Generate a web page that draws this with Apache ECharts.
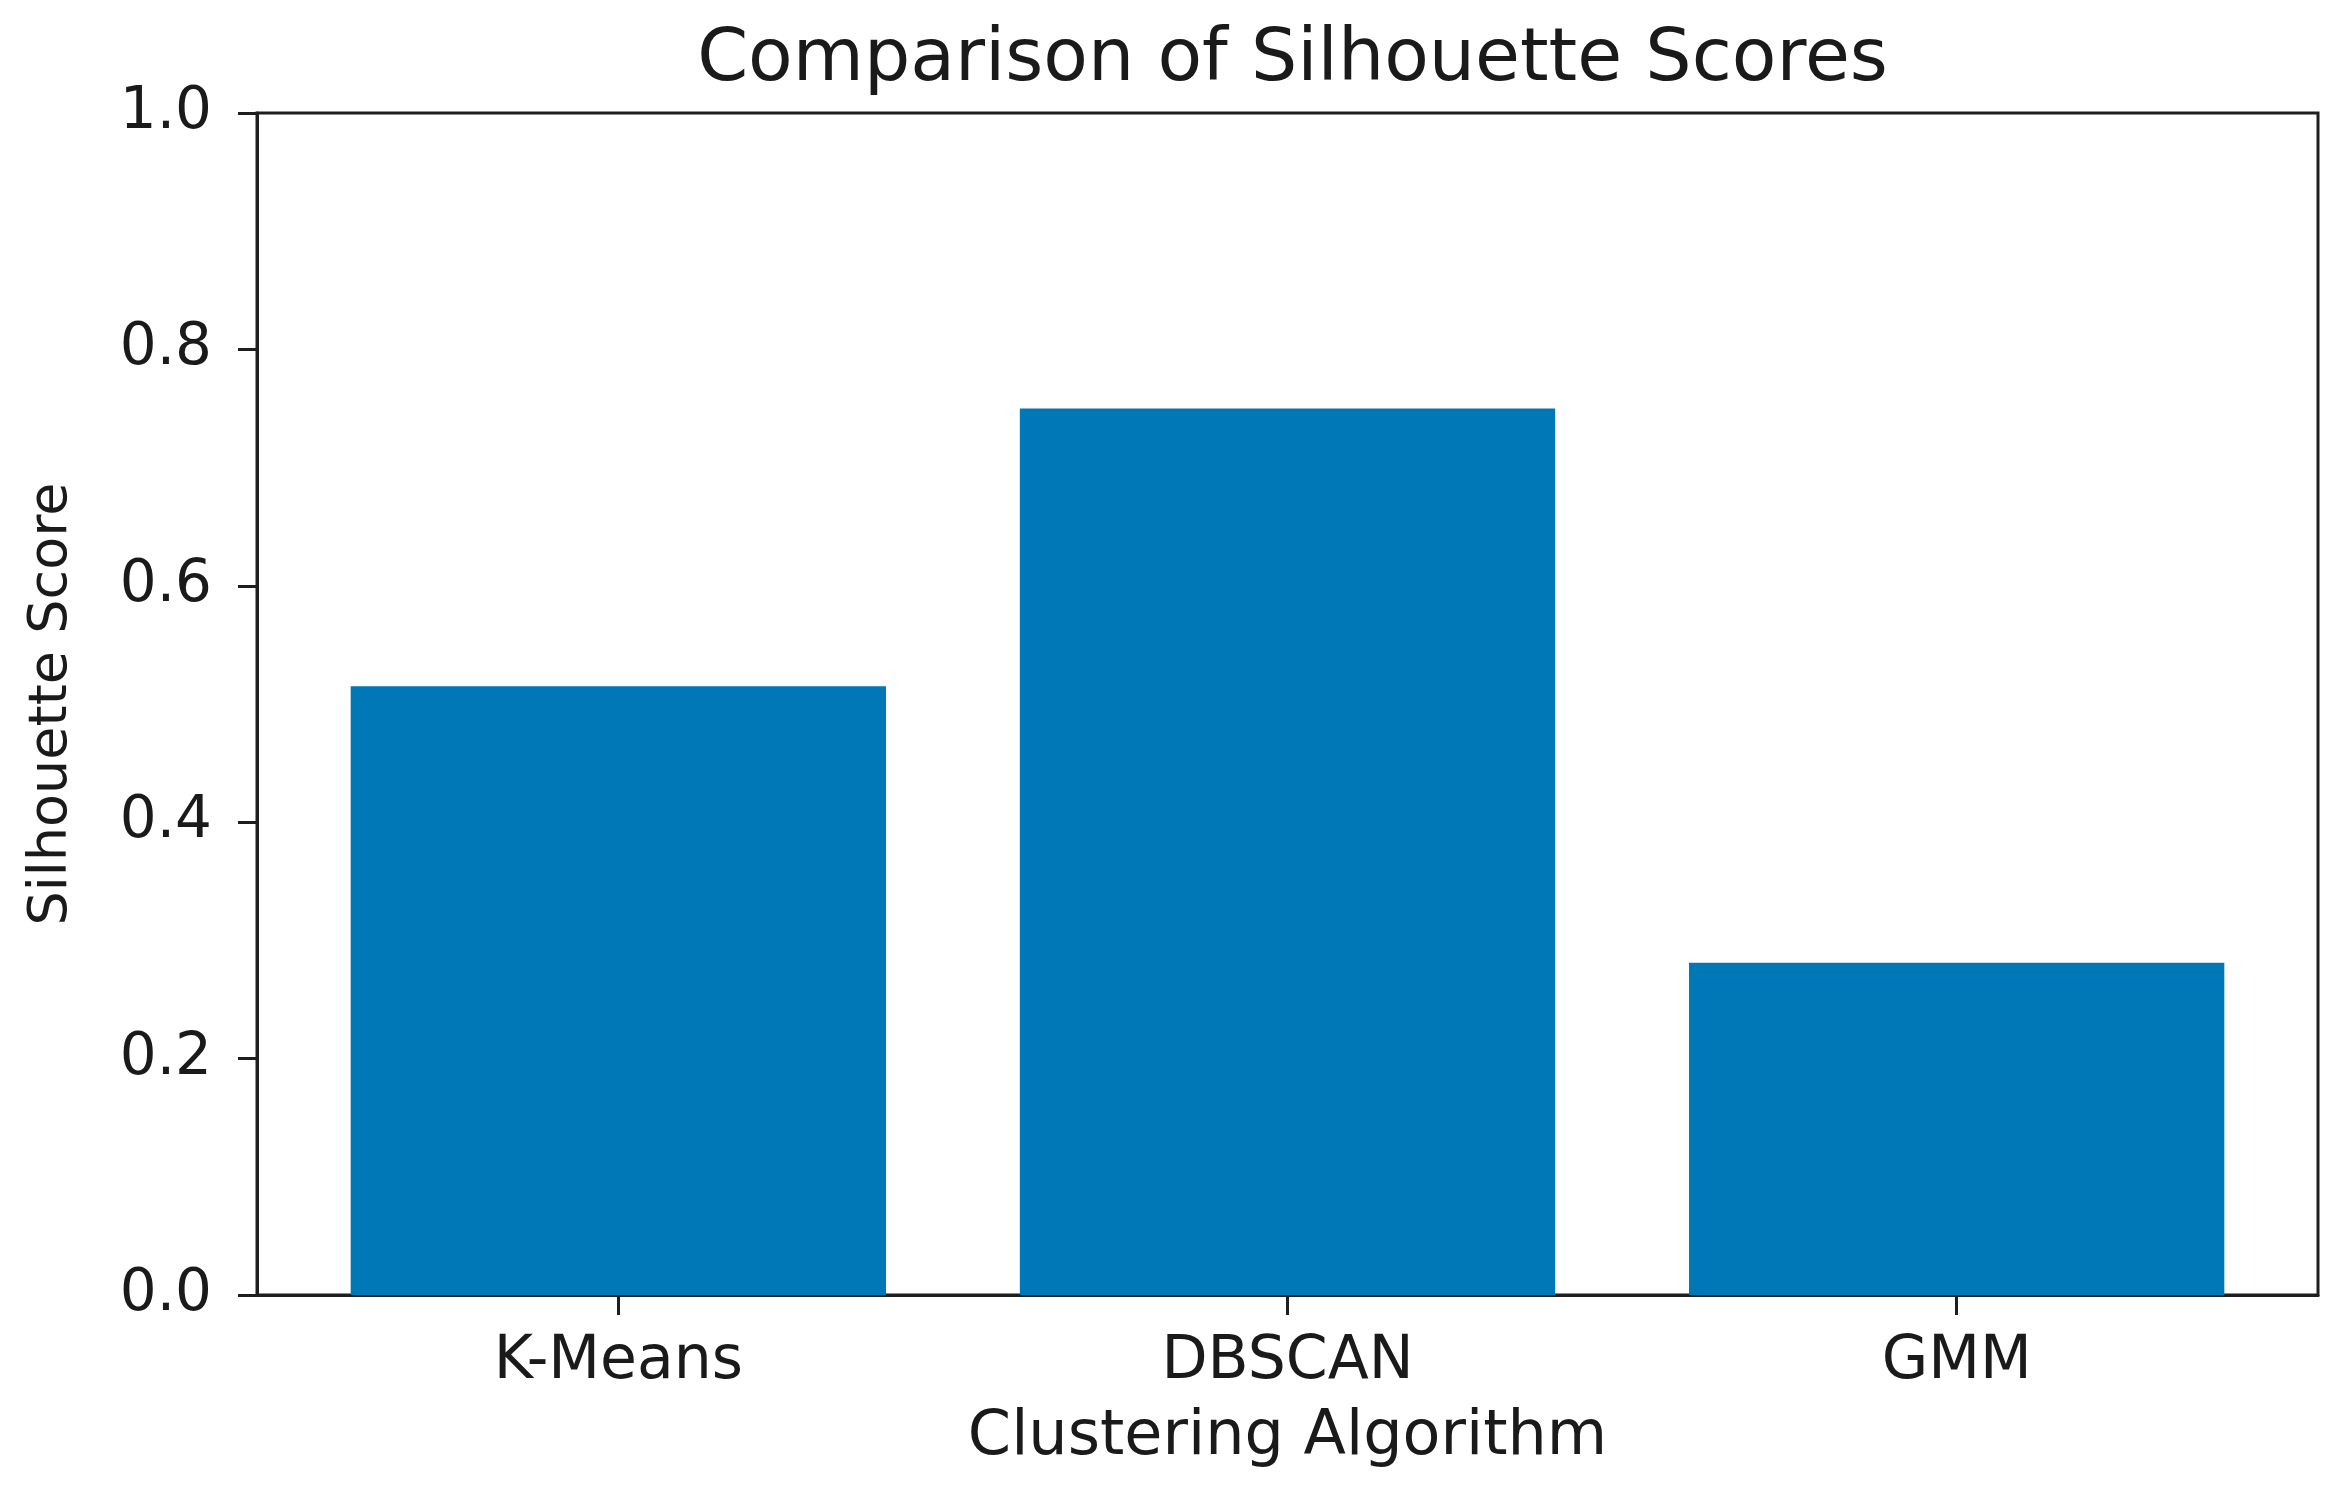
<!DOCTYPE html>
<html>
<head>
<meta charset="utf-8">
<script src="https://cdn.jsdelivr.net/npm/echarts@6/dist/echarts.min.js"></script>
<style>
html,body{margin:0;padding:0;background:#fff;}
#chart{width:2344px;height:1486px;}
</style>
</head>
<body>
<div id="chart"></div>
<script>
// ---- data ----
const categories = ['K-Means', 'DBSCAN', 'GMM'];
const scores = [0.515, 0.75, 0.281];
const yTickValues = [0.0, 0.2, 0.4, 0.6, 0.8, 1.0];
const titleText = 'Comparison of Silhouette Scores';
const xAxisTitle = 'Clustering Algorithm';
const yAxisTitle = 'Silhouette Score';

// ---- layout ----
const W = 2344, H = 1486;
const gridLeft = 257, gridRight = 26, gridTop = 113, gridBottom = 191;
const plotW = W - gridLeft - gridRight;
const barFrac = 0.8;
const span = (categories.length - 1) + barFrac;
const pad = 0.05 * span;
const xMin = -barFrac / 2 - pad;
const xMax = (categories.length - 1) + barFrac / 2 + pad;
const barPx = plotW * barFrac / (xMax - xMin);
const font = 'DejaVu Sans';
const ink = '#1a1a1a';
const lineCol = '#1e1e1e';
const idx = categories.map((c, i) => i);

const chart = echarts.init(document.getElementById('chart'), null, {renderer: 'canvas'});
chart.setOption({
  animation: false,
  backgroundColor: '#ffffff',
  title: {
    text: titleText,
    left: gridLeft + plotW / 2,
    textAlign: 'center',
    top: 20,
    textStyle: {fontFamily: font, fontSize: 73, fontWeight: 'normal', color: ink}
  },
  grid: {
    left: gridLeft, right: gridRight, top: gridTop, bottom: gridBottom,
    show: true, borderColor: lineCol, borderWidth: 3, backgroundColor: 'transparent'
  },
  xAxis: {
    type: 'value',
    min: xMin, max: xMax,
    name: xAxisTitle,
    nameLocation: 'middle',
    nameGap: 112,
    nameTextStyle: {fontFamily: font, fontSize: 62, color: ink},
    axisLine: {show: true, onZero: false, lineStyle: {color: lineCol, width: 3}},
    axisTick: {show: true, customValues: idx, length: 20, inside: false, lineStyle: {color: lineCol, width: 3}},
    axisLabel: {
      customValues: idx, margin: 37,
      fontFamily: font, fontSize: 60, color: ink,
      formatter: v => categories[Math.round(v)] || ''
    },
    splitLine: {show: false}
  },
  yAxis: {
    type: 'value',
    min: 0, max: 1, interval: 0.2,
    name: yAxisTitle,
    nameLocation: 'middle',
    nameGap: 178,
    nameRotate: 90,
    nameTextStyle: {fontFamily: font, fontSize: 54, color: ink},
    axisLine: {show: true, onZero: false, lineStyle: {color: lineCol, width: 3}},
    axisTick: {show: true, customValues: yTickValues, length: 19, lineStyle: {color: lineCol, width: 3}},
    axisLabel: {
      customValues: yTickValues, margin: 45,
      fontFamily: font, fontSize: 58, color: ink,
      formatter: v => Number(v).toFixed(1)
    },
    splitLine: {show: false}
  },
  series: [{
    type: 'bar',
    data: scores.map((v, i) => [i, v]),
    barWidth: barPx,
    itemStyle: {color: '#0077b6'},
    z: 1
  }]
});
</script>
</body>
</html>
